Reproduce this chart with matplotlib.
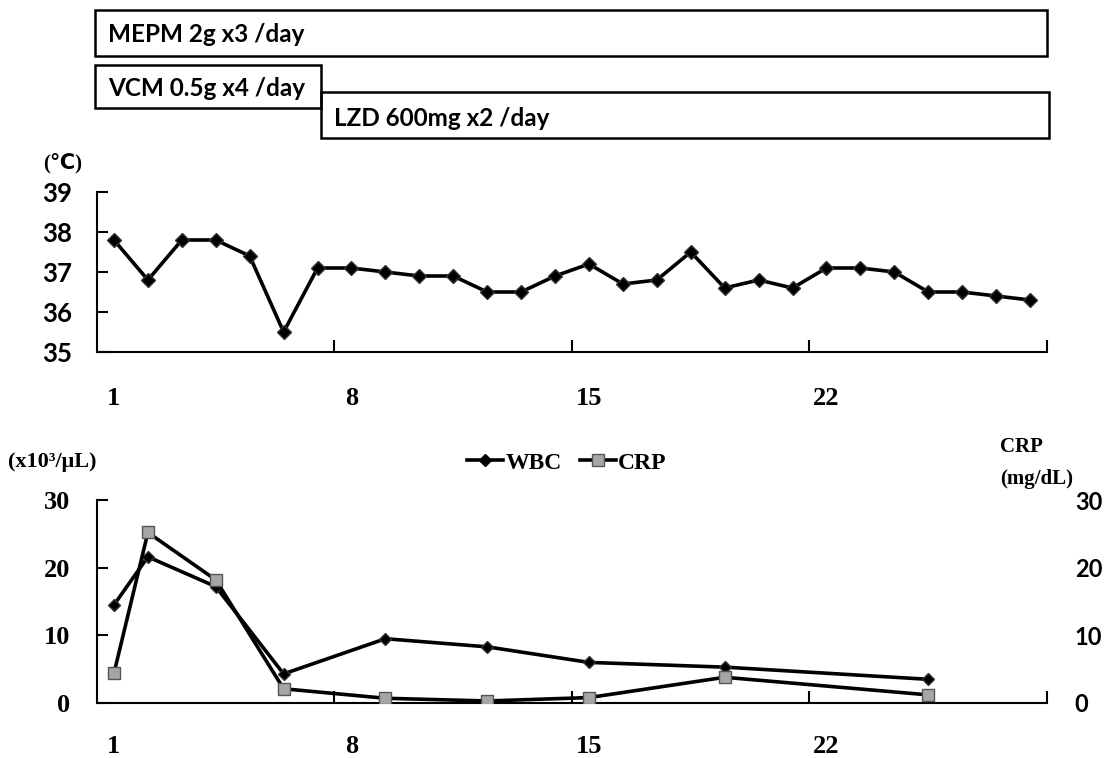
import matplotlib.pyplot as plt
from matplotlib.patches import Rectangle
from matplotlib.lines import Line2D

# 体温 (day 1-28)
days = list(range(1, 29))
temp = [37.8, 36.8, 37.8, 37.8, 37.4, 35.5, 37.1, 37.1, 37.0, 36.9, 36.9, 36.5, 36.5, 36.9,
        37.2, 36.7, 36.8, 37.5, 36.6, 36.8, 36.6, 37.1, 37.1, 37.0, 36.5, 36.5, 36.4, 36.3]

# 血液検査
lab_days = [1, 2, 4, 6, 9, 12, 15, 19, 25]
wbc = [14.5, 21.6, 17.2, 4.3, 9.5, 8.3, 6.0, 5.3, 3.5]
crp = [4.4, 25.2, 18.2, 2.1, 0.7, 0.3, 0.8, 3.8, 1.2]

# 投与薬
regimens = ["MEPM 2g x3 /day", "VCM 0.5g x4 /day", "LZD 600mg x2 /day"]
reg_start = [0.45, 0.45, 7.1]
reg_end = [28.5, 7.1, 28.55]

day_labels = [1, 8, 15, 22]
week_ticks = [7.5, 14.5, 21.5, 28.5]

W, H = 1107, 758
fig = plt.figure(figsize=(W / 100, H / 100), dpi=100)


def px_axes(x0, y0, x1, y1):
    return fig.add_axes([x0 / W, 1 - y1 / H, (x1 - x0) / W, (y1 - y0) / H])


sans = "Lato"
serif = "Liberation Serif"
LW = 2.6

# ---- 投与スケジュールの枠
axb = px_axes(97, 0, 1047, 150)
axb.set_xlim(0.5, 28.5)
axb.set_ylim(150, 0)
axb.axis("off")
box_y = [(10, 56), (65, 108), (92, 138)]
text_y = [34, 88, 118]
for name, s, e, (y0, y1), ty in zip(regimens, reg_start, reg_end, box_y, text_y):
    axb.add_patch(Rectangle((s, y0), e - s, y1 - y0, fill=False, lw=1.8,
                            ec="black", clip_on=False))
    axb.text(s + 0.38, ty, name, fontsize=17.5, fontweight="bold", family=sans,
             va="center", ha="left")

# ---- 体温
ax1 = px_axes(97, 192, 1047, 352)
ax1.plot(days, temp, color="black", lw=LW, marker="D", ms=7, mfc="black", mec="#333333")
ax1.set_xlim(0.5, 28.5)
ax1.set_ylim(35, 39)
ax1.set_yticks([35, 36, 37, 38, 39])
ax1.set_yticklabels(["35", "36", "37", "38", "39"], fontsize=18.5, fontweight="bold", family=sans)
ax1.set_xticks(week_ticks)
ax1.set_xticklabels([])
ax1.set_xticks(day_labels, minor=True)
ax1.set_xticklabels([str(d) for d in day_labels], minor=True, fontsize=19,
                    fontweight="bold", family=serif)
ax1.tick_params(axis="x", which="major", direction="in", length=9, width=1.5)
ax1.tick_params(axis="x", which="minor", length=0, pad=25)
ax1.tick_params(axis="y", direction="in", length=8, width=1.5, pad=18)
for sp in ["top", "right"]:
    ax1.spines[sp].set_visible(False)
for sp in ["left", "bottom"]:
    ax1.spines[sp].set_linewidth(1.5)
fig.text(63 / W, 1 - 163 / H, "(℃)", fontsize=15, fontweight="bold",
         family=[serif, "DejaVu Sans", "Noto Sans CJK JP"], ha="center", va="center")

# ---- WBC / CRP
ax2 = px_axes(97, 500, 1047, 703)
ax2.plot(lab_days, wbc, color="black", lw=LW, marker="D", ms=6, mfc="black", mec="#333333",
         label="WBC", zorder=3)
ax3 = ax2.twinx()
ax3.plot(lab_days, crp, color="black", lw=LW, marker="s", ms=9, mfc="#a6a6a6", mec="#555555",
         label="CRP", zorder=3)
for a in (ax2, ax3):
    a.set_xlim(0.5, 28.5)
    a.set_ylim(0, 30)
    a.set_yticks([0, 10, 20, 30])
    for sp in ["top", "right"]:
        a.spines[sp].set_visible(False)
    a.spines["left"].set_linewidth(1.5)
    a.spines["bottom"].set_linewidth(1.5)
ax3.spines["left"].set_visible(False)
ax3.spines["bottom"].set_visible(False)
ax2.set_yticklabels(["0", "10", "20", "30"], fontsize=19, fontweight="bold", family=serif)
ax3.set_yticklabels(["0", "10", "20", "30"], fontsize=17, fontweight="bold", family=sans)
ax2.tick_params(axis="y", direction="in", length=8, width=1.5, pad=19)
ax3.tick_params(axis="y", length=0, pad=20)
ax2.set_xticks(week_ticks)
ax2.set_xticklabels([])
ax2.set_xticks(day_labels, minor=True)
ax2.set_xticklabels([str(d) for d in day_labels], minor=True, fontsize=19,
                    fontweight="bold", family=serif)
ax2.tick_params(axis="x", which="major", direction="in", length=9, width=1.5)
ax2.tick_params(axis="x", which="minor", length=0, pad=23)

handles = [Line2D([], [], color="black", lw=LW, marker="D", ms=6, mfc="black"),
           Line2D([], [], color="black", lw=LW, marker="s", ms=8, mfc="#a6a6a6", mec="#555555")]
fig.legend(handles, ["WBC", "CRP"], loc="center", bbox_to_anchor=(567 / W, 1 - 463 / H),
           ncol=2, frameon=False, handlelength=1.5, handletextpad=0.1, columnspacing=0.8,
           prop={"family": serif, "weight": "bold", "size": 17})

fig.text(8 / W, 1 - 462 / H, "(x10³/μL)", fontsize=16, fontweight="bold", family=serif,
         ha="left", va="center")
fig.text(1000 / W, 1 - 447 / H, "CRP", fontsize=15, fontweight="bold", family=serif,
         ha="left", va="center")
fig.text(1000 / W, 1 - 479 / H, "(mg/dL)", fontsize=15, fontweight="bold", family=serif,
         ha="left", va="center")

fig.savefig("out.png", dpi=100)
